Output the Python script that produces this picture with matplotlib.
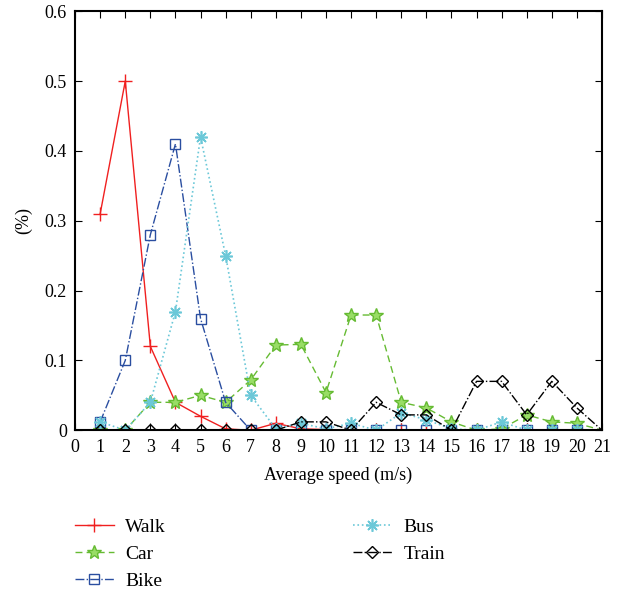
import matplotlib.pyplot as plt
import numpy as np

plt.rcParams['font.family'] = ['Liberation Serif', 'DejaVu Serif']

speed = list(range(1, 22))
walk = [0.31, 0.50, 0.12, 0.04, 0.02, 0.002, 0.0, 0.01, 0.002, 0.001, 0.0,
        0, 0, 0, 0, 0, 0, 0, 0, 0, 0]
car = [0.0, 0.0, 0.04, 0.04, 0.05, 0.04, 0.072, 0.122, 0.123, 0.054, 0.165,
       0.165, 0.04, 0.032, 0.012, 0.0, 0.002, 0.022, 0.012, 0.01, 0.0]
bike = [0.012, 0.10, 0.28, 0.41, 0.16, 0.04, 0.0, 0.0, 0.0, 0.0, 0.0,
        0, 0, 0, 0, 0, 0, 0, 0, 0, 0]
bus = [0.012, 0.0, 0.04, 0.17, 0.42, 0.25, 0.05, 0.002, 0.01, 0.002, 0.01,
       0.0, 0.025, 0.015, 0.002, 0.0, 0.012, 0.0, 0.0, 0.0, 0.0]
train = [0, 0, 0, 0, 0, 0, 0, 0, 0.012, 0.012, 0.0,
         0.04, 0.022, 0.022, 0.0, 0.07, 0.07, 0.022, 0.07, 0.032, 0.0]

fig = plt.figure(figsize=(6.31, 5.91), dpi=100)
ax = fig.add_axes([0.119, 0.272, 0.835, 0.709])

mk = list(range(20))
ax.plot(speed, walk, '-', color='#f02020', marker='+', ms=10, lw=1, markevery=mk, label='Walk')
ax.plot(speed, car, '--', color='#66bb33', marker='*', ms=10, mfc='#99dd66', lw=1, markevery=mk,
        dashes=(5, 3), label='Car')
ax.plot(speed, bike, '-.', color='#2a4ea0', marker='s', ms=7, mfc='none', lw=1, markevery=mk, label='Bike')
ax.plot(speed, bus, ':', color='#6cc8d8', marker=(8, 2, 0), ms=9, mew=1.2, lw=1.2, markevery=mk, label='Bus')
ax.plot(speed, train, '-.', color='black', marker='D', ms=6.5, mfc='none', lw=1, markevery=mk, label='Train')

ax.set_xlim(0, 21)
ax.set_ylim(0, 0.6)
ax.set_xticks(range(0, 22))
ax.set_yticks(np.arange(0, 0.61, 0.1))
ax.set_yticklabels(['0', '0.1', '0.2', '0.3', '0.4', '0.5', '0.6'])
ax.tick_params(direction='in', top=True, right=True, labelsize=13, length=5, pad=6)
for s in ax.spines.values():
    s.set_linewidth(1.5)
ax.set_xlabel('Average speed (m/s)', fontsize=13, labelpad=8)
ax.set_ylabel('(%)', fontsize=13, labelpad=9)

fig.legend(loc='upper left', bbox_to_anchor=(0.091, 0.152), ncol=2, frameon=False,
           fontsize=14, columnspacing=9.6, handlelength=2.0, handletextpad=0.6,
           labelspacing=0.48)

fig.savefig('out.png', dpi=100)
